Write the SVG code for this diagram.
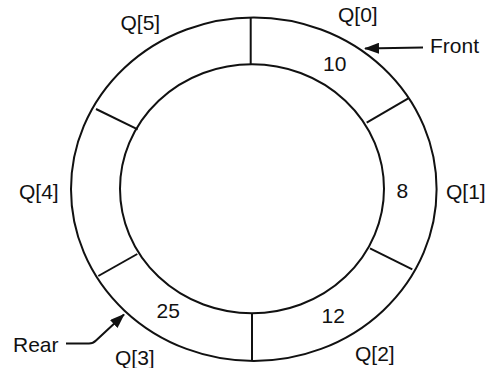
<svg xmlns="http://www.w3.org/2000/svg" width="488" height="368" viewBox="0 0 488 368">
<style>
.s{fill:none;stroke:#111;stroke-width:2}
text{font-family:"Liberation Sans",Arial,sans-serif;font-size:21px;fill:#111}
</style>
<defs>
<marker id="ah" viewBox="0 0 15 11" refX="14" refY="5.5" markerWidth="15" markerHeight="11" markerUnits="userSpaceOnUse" orient="auto">
<path d="M0,0 L15,5.5 L0,11 Z" fill="#111"/>
</marker>
</defs>
<rect width="488" height="368" fill="#fff"/>
<g id="ring">
<ellipse class="s" cx="253.8" cy="189.2" rx="182.8" ry="171.8"/>
<ellipse class="s" cx="252" cy="188.8" rx="132" ry="124.5"/>
<line class="s" x1="250.7" y1="17.5" x2="250.7" y2="64.5"/>
<line class="s" x1="408.3" y1="98.3" x2="366.7" y2="122.7"/>
<line class="s" x1="412.3" y1="269.3" x2="370" y2="248.3"/>
<line class="s" x1="252" y1="313.3" x2="252" y2="361"/>
<line class="s" x1="98.3" y1="276" x2="137.3" y2="254"/>
<line class="s" x1="96" y1="109" x2="137.7" y2="129.3"/>
</g>
<g id="cell0"><text x="338" y="22">Q[0]</text><text x="323" y="70.5">10</text></g>
<g id="cell1"><text x="446" y="198.5">Q[1]</text><text x="396.5" y="198">8</text></g>
<g id="cell2"><text x="355" y="360.5">Q[2]</text><text x="321.5" y="322.5">12</text></g>
<g id="cell3"><text x="115" y="364.5">Q[3]</text><text x="156.5" y="318">25</text></g>
<g id="cell4"><text x="19" y="199">Q[4]</text></g>
<g id="cell5"><text x="120.5" y="29.5">Q[5]</text></g>
<g id="front"><text x="430" y="52.5">Front</text></g>
<g id="rear"><text x="13" y="351.5">Rear</text></g>
<g id="connectors">
<path class="s" d="M423,47.5 L365,48.5" marker-end="url(#ah)"/>
<path class="s" d="M66,343.5 L89,343.5 Q93,343.5 96,340.5 L124,314.5" marker-end="url(#ah)"/>
</g>
</svg>
